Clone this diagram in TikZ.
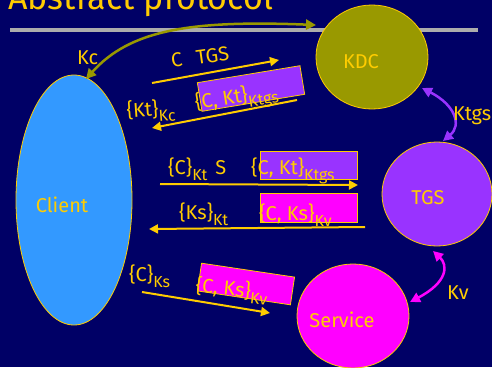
\documentclass[tikz,border=0pt]{standalone}
\usepackage{fontspec}
\setmainfont{Fira Sans}
\usetikzlibrary{arrows.meta,shapes.geometric}
\definecolor{bg}{RGB}{0,0,102}
\definecolor{yel}{RGB}{255,204,0}
\definecolor{oliv}{RGB}{153,153,0}
\definecolor{purp}{RGB}{153,51,255}
\definecolor{mag}{RGB}{255,0,255}
\definecolor{cblue}{RGB}{51,153,255}
\newcommand{\sbx}[1]{\raisebox{-6pt}{\fontsize{16}{16}\selectfont #1}}
\tikzset{
  every node/.style={text=yel, inner sep=0pt},
  blob/.style={ellipse, draw=yel, line width=0.8pt, inner sep=0pt},
  boxr/.style={rectangle, draw=yel, line width=0.8pt, inner sep=0pt},
  lbl/.style={font=\fontsize{20}{22}\selectfont, anchor=base west},
  msg/.style={draw=yel, line width=2pt, -{Triangle[length=9pt,width=9pt]}},
  key/.style={line width=2.5pt, {Triangle[length=10pt,width=10pt]}-{Triangle[length=10pt,width=10pt]}}
}
\begin{document}
\begin{tikzpicture}[x=1pt,y=-1pt]
\useasboundingbox (0,0) rectangle (492,367);
\clip (0,0) rectangle (492,367);
\fill[bg] (0,0) rectangle (492,367);
% title
\node[anchor=base west, font=\fontsize{34}{36}\selectfont] (title) at (8,9) {Abstract protocol};
\fill[gray!65] (10,28) rectangle (478,32);
% principals
\node[blob, fill=oliv, minimum width=112pt, minimum height=104pt] (kdc) at (372,57) {};
\node[lbl, anchor=center] (kdct) at (361,62) {KDC};
\node[blob, fill=purp, minimum width=110pt, minimum height=104pt] (tgs) at (437,194) {};
\node[lbl, anchor=center] (tgst) at (428,198) {TGS};
\node[blob, fill=mag, minimum width=112pt, minimum height=104pt] (svc) at (353,316) {};
\node[lbl, anchor=center] (svct) at (342,320) {Service};
\node[blob, fill=cblue, minimum width=116pt, minimum height=250pt] (client) at (74,200) {};
\node[lbl, anchor=center] (clientt) at (62,205) {Client};
% long-term keys
\coordinate (kc1) at (86,79);
\coordinate (kc2) at (316,25);
\draw[key, draw=oliv] (kc1) .. controls (130,30) and (190,20) .. (kc2);
\node[lbl] (kc) at (77,64) {Kc};
\coordinate (kt1) at (422,88);
\coordinate (kt2) at (443,141);
\draw[key, draw=purp] (kt1) .. controls (455,105) and (462,125) .. (kt2);
\node[lbl] (ktgs) at (453,120) {Ktgs};
\coordinate (kv1) at (433,251);
\coordinate (kv2) at (410,302);
\draw[key, draw=mag] (kv1) .. controls (448,265) and (448,282) .. (kv2);
\node[lbl] (kv) at (447,299) {Kv};
% message 1
\coordinate (m1s) at (152,83);
\coordinate (m1e) at (279,60);
\draw[msg] (m1s) -- (m1e);
\node[lbl, rotate=8] (m1l) at (172,68) {C\hspace{14pt}TGS};
% message 2
\node[boxr, fill=purp, minimum width=104pt, minimum height=29pt, rotate=9.4] (t1) at (251,88.5) {};
\node[lbl, rotate=9.4] (t1l) at (196,110) {\{C, Kt\}\sbx{Ktgs}};
\coordinate (m2s) at (297,100);
\coordinate (m2e) at (152,128);
\draw[msg] (m2s) -- (m2e);
\node[lbl, rotate=4] (m2l) at (127,118) {\{Kt\}\sbx{Kc}};
% message 3
\node[boxr, fill=purp, minimum width=97pt, minimum height=28pt] (t2) at (308.5,165) {};
\node[lbl] (m3l) at (168,174) {\{C\}\sbx{Kt}\hspace{8pt}S};
\node[lbl] (m3r) at (251,174) {\{C, Kt\}\sbx{Ktgs}};
\coordinate (m3s) at (160,184);
\coordinate (m3e) at (358,185);
\draw[msg] (m3s) -- (m3e);
% message 4
\node[boxr, fill=mag, minimum width=97pt, minimum height=29pt] (t3) at (308.5,207.5) {};
\node[lbl] (m4l) at (179,219) {\{Ks\}\sbx{Kt}};
\node[lbl] (m4r) at (259,220) {\{C, Ks\}\sbx{Kv}};
\coordinate (m4s) at (365,227);
\coordinate (m4e) at (149,229);
\draw[msg] (m4s) -- (m4e);
% message 5
\node[boxr, fill=mag, minimum width=94pt, minimum height=28pt, rotate=-8.5] (t4) at (246,284) {};
\node[lbl] (m5l) at (129,281) {\{C\}\sbx{Ks}};
\node[lbl, rotate=-6] (m5r) at (195,292) {\{C, Ks\}\sbx{Kv}};
\coordinate (m5s) at (142,292);
\coordinate (m5e) at (270,313);
\draw[msg] (m5s) -- (m5e);
\end{tikzpicture}
\end{document}
